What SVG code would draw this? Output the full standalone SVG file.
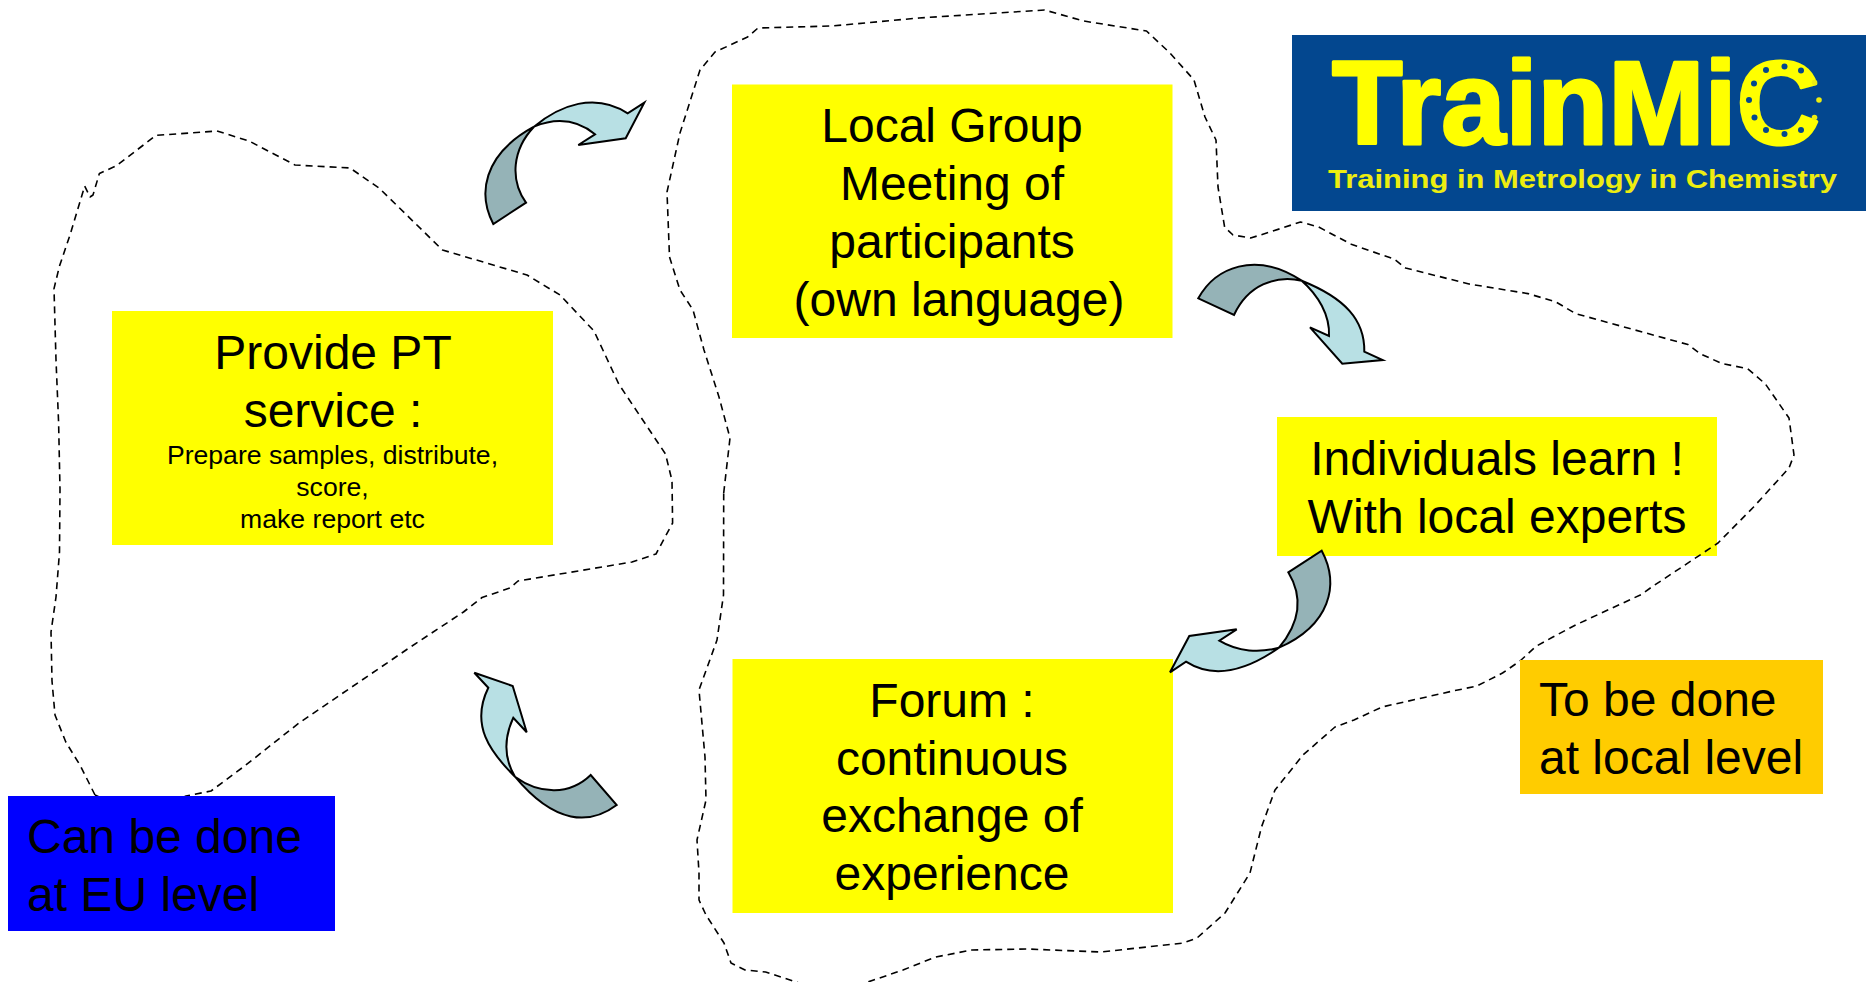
<svg xmlns="http://www.w3.org/2000/svg" width="1866" height="982" viewBox="0 0 1866 982">
<style>
text{font-family:"Liberation Sans",Arial,sans-serif;fill:#000}
.c{text-anchor:middle}
.t{font-size:48px}
.s{font-size:26.6px}
.blob{fill:none;stroke:#000;stroke-width:1.6;stroke-dasharray:7 5;stroke-linejoin:round}
.arrow path{stroke:#000;stroke-width:2;stroke-linejoin:miter}
.dk{fill:#95B3B7}
.lt{fill:#B8E0E4}
.y{fill:#FFFF00}
.logo{fill:#FFFF00;font-weight:bold}
</style>
<rect width="1866" height="982" fill="#fff"/>
<g id="node-provide"><rect class="y" x="112" y="311" width="441" height="234"/>
<text class="t c" x="333" y="369">Provide PT</text><text class="t c" x="333" y="427">service :</text>
<text class="s c" x="332.500" y="464">Prepare samples, distribute,</text><text class="s c" x="332.500" y="496">score,</text><text class="s c" x="332.500" y="528">make report etc</text></g>
<g id="node-local"><rect class="y" x="732" y="84.500" width="440.500" height="253.500"/>
<text class="t c" x="952" y="141.700">Local Group</text><text class="t c" x="952" y="200">Meeting of</text><text class="t c" x="952" y="258">participants</text><text class="t c" x="959" y="316">(own language)</text></g>
<g id="node-individuals"><rect class="y" x="1277" y="417" width="440" height="139"/>
<text class="t c" x="1497" y="474.500">Individuals learn !</text><text class="t c" x="1497" y="533">With local experts</text></g>
<g id="node-forum"><rect class="y" x="732.500" y="659" width="440.500" height="254"/>
<text class="t c" x="952" y="716.700">Forum :</text><text class="t c" x="952" y="775">continuous</text><text class="t c" x="952" y="831.700">exchange of</text><text class="t c" x="952" y="890">experience</text></g>
<g id="regions">
<path id="region-eu" class="blob" d="M95 795L80.500 766L65.800 742L55 715L52 681L51 632L56 597L59.500 552L60 489.500L58.600 422.500L56 360L54 288.600L59.500 266L70 235L84.700 186L90 197L93 195L99.400 173.400L116 166L156 135.400L217 131L249 141L295 165L350 168L379 188L442.500 250L527 275L560 295L594 331L619 384.500L665.500 454L672 480.500L672.600 523L656 554L632 562L518 581L510 588L482 597.500L463.500 612L409 648L299 723L282.500 736L244.600 766L211 791L186 796L140 815Z"/>
<path id="region-local" class="blob" d="M723.700 493L730 438L719 397L704 350L693 310L680 290L669.500 257L667 192L680 133L700 70L715 52L747.600 37L758 28L832 26L919 18L1044.600 10L1083.600 21L1146.500 31L1170 53L1194 80L1205 117L1216 140L1218 187L1224.600 227L1233 235L1250.600 238L1270 232L1300.500 222L1318.600 227L1352 244.600L1394 259L1405.600 268L1469 284L1528 293.600L1556 302L1575.600 313.600L1635 330L1688 344.600L1700 353.600L1722 363.600L1747.600 368.600L1765.400 384L1789 418L1794 455L1789 468L1753.600 507L1718 543L1694 559L1651 587.500L1641 594.600L1575.600 625L1552 637.500L1536 646.400L1520 661L1502.500 673L1477 686L1453 691L1382 707L1354 720L1335 727L1303 755L1275 790L1261.500 827L1250 873L1225 913L1197 938L1183.400 943L1101 952L1027 949L972 950L935.500 957L903 970L862 984L802 984L765.600 972L745 970L731 963L724 943L706 915L699 900L699 873L697 840L706 800L705 757L699 690L717 640L723.500 595Z"/>
</g>
<g id="node-eu"><rect x="8" y="796" width="327" height="135" fill="#0000FF"/>
<text class="t" x="27" y="853">Can be done</text><text class="t" x="27" y="911">at EU level</text></g>
<g id="node-todo"><rect x="1520" y="660" width="303" height="134" fill="#FFCC00"/>
<text class="t" x="1539" y="716">To be done</text><text class="t" x="1539" y="774">at local level</text></g>
<g id="connectors">
<g class="arrow"><path class="dk" d="M493.300 224C478 195 482 155 534 126.700C512 150 510 180 526 202.700Z"/><path class="lt" d="M534 126.700C560 105 595 92 627.700 113.300L644.300 102.700L625.700 138.300L578.300 145L595 134.300C575 118 555 118 534 126.700Z"/></g>
<g class="arrow"><path class="dk" d="M1198.300 298.300C1215 268 1255 250 1301.700 280.700C1275 275 1248 285 1234 315Z"/><path class="lt" d="M1301.700 280.700C1345 298 1365 320 1364.300 351.700L1382.700 360L1342.300 363.700L1310 327.300L1329 336C1330 315 1318 295 1301.700 280.700Z"/></g>
<g class="arrow"><path class="dk" d="M1321.700 550.700C1340 585 1330 625 1279 647.700C1298 625 1305 600 1288.300 572.300Z"/><path class="lt" d="M1279 647.700C1260 653 1238 652 1219.300 640.700L1236.700 629.300L1189.300 636L1170 672.300L1186 661.700C1210 677 1240 675 1279 647.700Z"/></g>
<g class="arrow"><path class="dk" d="M616.700 805C590 825 555 825 515 776.700C540 795 570 795 590.700 775Z"/><path class="lt" d="M515 776.700C490 752 470 725 488.300 687.700L474.300 672.700L512.700 686L526.700 732.300L513.300 717.700C503 740 505 760 515 776.700Z"/></g>
</g>
<g id="logo"><rect x="1292" y="35" width="574" height="176" fill="#03478F"/>
<text class="logo" x="1332" y="143.500" font-size="118" textLength="488" lengthAdjust="spacingAndGlyphs" style="stroke:#FFFF00;stroke-width:3;stroke-linejoin:round">TrainMiC</text>
<text class="logo" x="1328" y="188" font-size="26.500" textLength="509" lengthAdjust="spacingAndGlyphs" style="fill:#EDED10">Training in Metrology in Chemistry</text>
<g fill="#03478F"><circle cx="1784.500" cy="66.500" r="3"/><circle cx="1766" cy="70" r="3"/><circle cx="1801" cy="70.500" r="3"/><circle cx="1754" cy="83.500" r="3"/><circle cx="1749" cy="100" r="3"/><circle cx="1754.500" cy="117.500" r="3"/><circle cx="1766" cy="130" r="3"/><circle cx="1784.500" cy="134" r="3"/><circle cx="1801" cy="130" r="3"/></g>
<g fill="#EDED10"><circle cx="1814.500" cy="82.500" r="2.800"/><circle cx="1819" cy="100" r="2.800"/><circle cx="1814.500" cy="117.500" r="2.800"/></g>
</g>
</svg>
